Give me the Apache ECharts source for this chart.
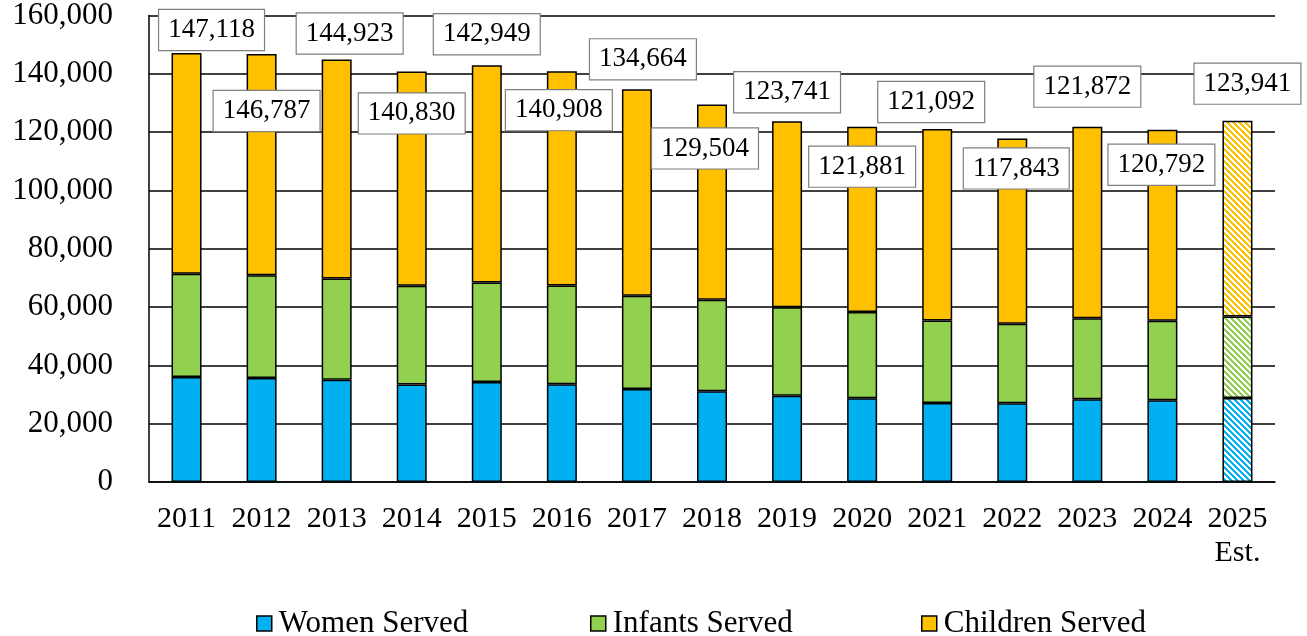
<!DOCTYPE html>
<html>
<head>
<meta charset="utf-8">
<script src="https://cdn.jsdelivr.net/npm/echarts@6/dist/echarts.min.js"></script>
<style>
  html, body { margin: 0; padding: 0; background: #fff; }
  #chart { width: 1307px; height: 636px; }
</style>
</head>
<body>
<div id="chart"></div>
<script>
// Participants served per year (2025 is an estimate)
const years = ['2011', '2012', '2013', '2014', '2015', '2016', '2017', '2018',
  '2019', '2020', '2021', '2022', '2023', '2024', '2025\nEst.'];
const women = [36000, 35700, 35100, 33400, 34300, 33500, 31900, 31100,
  29600, 28700, 27100, 27000, 28400, 28000, 28800];
const infants = [35400, 35200, 34700, 33900, 34100, 33900, 32000, 31400,
  30300, 29600, 28300, 27300, 27800, 27300, 28000];
const children = [75718, 75887, 75123, 73530, 74549, 73508, 70764, 67004,
  63841, 63581, 65692, 63543, 65672, 65492, 67141];
const yTicks = [0, 20000, 40000, 60000, 80000, 100000, 120000, 140000, 160000];

// Hand-placed total callouts: [dx, dy] of the box centre from the bar's top centre (px)
const calloutNudge = [[25, -23], [5, 57], [13, -26], [0, 42], [0, -31], [-3, 39],
  [6, -30], [-7, 44], [0, -29], [0, 40], [-6, -27], [4, 30], [0, -40], [-1, 35], [10, -37]];

const FONT = 'Liberation Serif, Times New Roman, serif';
const COLORS = { women: '#00B0F0', infants: '#92D050', children: '#FFC000' };
const BAR_W = 30;
const estimateIndex = years.length - 1;

// Diagonal stripe tile used for the estimated year
function stripes(color) {
  const n = 6;
  const c = document.createElement('canvas');
  c.width = n; c.height = n;
  const ctx = c.getContext('2d');
  ctx.fillStyle = '#fff';
  ctx.fillRect(0, 0, n, n);
  ctx.fillStyle = color;
  for (let y = 0; y < n; y++) {
    for (let x = 0; x < n; x++) {
      const d = ((x - y) % n + n) % n;
      if (d < 3) ctx.fillRect(x, y, 1, 1);
    }
  }
  return { image: c, repeat: 'repeat' };
}

function itemsFor(values, color) {
  return values.map((v, i) => i === estimateIndex
    ? { value: v, itemStyle: { color: stripes(color) } }
    : v);
}

const totals = years.map((_, i) => women[i] + infants[i] + children[i]);

const childItems = children.map((v, i) => {
  const item = {
    value: v,
    label: {
      show: true,
      position: [BAR_W / 2 + calloutNudge[i][0], calloutNudge[i][1]],
      align: 'center',
      verticalAlign: 'middle',
      formatter: totals[i].toLocaleString('en-US')
    }
  };
  if (i === estimateIndex) item.itemStyle = { color: stripes(COLORS.children) };
  return item;
});

const barBase = {
  type: 'bar',
  stack: 'served',
  barWidth: BAR_W,
  emphasis: { disabled: true }
};

const legendBase = {
  orient: 'horizontal',
  top: 603,
  icon: 'rect',
  itemWidth: 15,
  itemHeight: 15,
  itemStyle: { borderColor: '#000', borderWidth: 1.5 },
  textStyle: { fontFamily: FONT, fontSize: 31, color: '#000', padding: [0, 0, 0, 2] },
  selectedMode: false
};

const chart = echarts.init(document.getElementById('chart'), null, { renderer: 'canvas' });
chart.setOption({
  animation: false,
  backgroundColor: '#fff',
  grid: { left: 149, right: 32, top: 15, bottom: 154, containLabel: false },
  legend: [
    Object.assign({}, legendBase, { left: 251, data: ['Women Served'] }),
    Object.assign({}, legendBase, { left: 585, data: ['Infants Served'] }),
    Object.assign({}, legendBase, { left: 916, data: ['Children Served'] })
  ],
  xAxis: {
    type: 'category',
    data: years,
    axisLine: { lineStyle: { color: '#000', width: 1.5 } },
    axisTick: { show: false },
    axisLabel: {
      fontFamily: FONT, fontSize: 30, color: '#000', margin: 20,
      lineHeight: 34, interval: 0
    }
  },
  yAxis: {
    type: 'value',
    min: yTicks[0],
    max: yTicks[yTicks.length - 1],
    interval: yTicks[1] - yTicks[0],
    axisLine: { show: true, lineStyle: { color: '#000', width: 1.5 } },
    axisTick: { show: false },
    splitLine: { lineStyle: { color: '#000', width: 1.5 } },
    axisLabel: {
      fontFamily: FONT, fontSize: 31, color: '#000', margin: 36,
      formatter: v => v.toLocaleString('en-US')
    }
  },
  series: [
    Object.assign({}, barBase, {
      name: 'Women Served',
      data: itemsFor(women, COLORS.women),
      itemStyle: { color: COLORS.women, borderColor: '#000', borderWidth: 1.5 }
    }),
    Object.assign({}, barBase, {
      name: 'Infants Served',
      data: itemsFor(infants, COLORS.infants),
      itemStyle: { color: COLORS.infants, borderColor: '#000', borderWidth: 1.5 }
    }),
    Object.assign({}, barBase, {
      name: 'Children Served',
      data: childItems,
      itemStyle: { color: COLORS.children, borderColor: '#000', borderWidth: 1.5 },
      label: {
        fontFamily: FONT, fontSize: 27, color: '#000',
        backgroundColor: '#fff', borderColor: '#7f7f7f', borderWidth: 1.2,
        padding: [5, 9, 4, 9], lineHeight: 31
      },
      labelLayout: { hideOverlap: false }
    })
  ]
});
</script>
</body>
</html>
